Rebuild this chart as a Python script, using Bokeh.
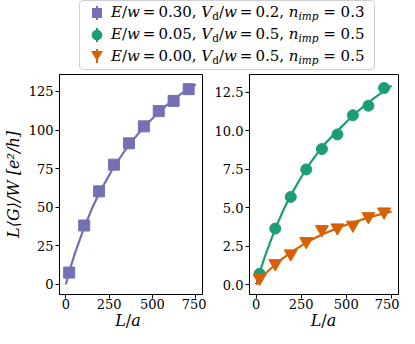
from bokeh.plotting import figure
from bokeh.layouts import column, row
from bokeh.models import Div, Spacer, FixedTicker, PrintfTickFormatter, Range1d
from bokeh.embed import file_html
from bokeh.resources import INLINE

# ---------------- data ----------------
L_pts = [19, 106, 192, 278, 365, 451, 537, 623, 710]
G_purple = [7.7, 38.2, 60.3, 77.6, 91.4, 102.4, 112.3, 118.9, 126.5]
G_green = [0.7, 3.64, 5.70, 7.49, 8.82, 9.77, 11.02, 11.64, 12.79]
G_orange = [0.42, 1.37, 2.01, 2.81, 3.59, 3.70, 3.88, 4.43, 4.74]

L_fit = [0, 19, 50, 106, 150, 192, 278, 365, 451, 537, 623, 710, 752]
fit_purple = [0, 8.2, 19.5, 37.0, 49.0, 59.0, 76.4, 90.5, 102.0, 111.6, 120.0, 126.8, 129.6]
fit_green = [0, 0.75, 1.88, 3.64, 4.82, 5.82, 7.54, 8.96, 10.0, 11.0, 11.85, 12.6, 12.94]
fit_orange = [0, 0.27, 0.7, 1.3, 1.72, 2.09, 2.73, 3.25, 3.68, 4.04, 4.36, 4.63, 4.75]

x_ticks = [0, 250, 500, 750]
y_ticks_left = [0, 25, 50, 75, 100, 125]
y_ticks_right = [0.0, 2.5, 5.0, 7.5, 10.0, 12.5]

x_label_html = "<i>L</i>/<i>a</i>"
y_label = "L\u27e8G\u27e9/W [e\u00b2/h]"
legend_labels = [
    "<i>E</i>/<i>w</i>&#8201;=&#8201;0.30, <i>V</i><sub>d</sub>/<i>w</i>&#8201;=&#8201;0.2, <i>n<sub>imp</sub></i> = 0.3",
    "<i>E</i>/<i>w</i>&#8201;=&#8201;0.05, <i>V</i><sub>d</sub>/<i>w</i>&#8201;=&#8201;0.5, <i>n<sub>imp</sub></i> = 0.5",
    "<i>E</i>/<i>w</i>&#8201;=&#8201;0.00, <i>V</i><sub>d</sub>/<i>w</i>&#8201;=&#8201;0.5, <i>n<sub>imp</sub></i> = 0.5",
]

PURPLE = "#7570b3"
GREEN = "#1b9e77"
ORANGE = "#d95f02"
FONT = "DejaVu Serif"

FIG_H = 244
B_TOP = 4
B_BOT = 20


def style(p, yticks, fmt=None):
    p.xaxis.ticker = FixedTicker(ticks=x_ticks)
    p.yaxis.ticker = FixedTicker(ticks=yticks)
    if fmt:
        p.yaxis.formatter = PrintfTickFormatter(format=fmt)
    p.grid.visible = False
    p.outline_line_color = "black"
    p.outline_line_width = 1
    p.outline_line_alpha = 1
    for ax in (p.xaxis, p.yaxis):
        ax.axis_line_color = "black"
        ax.major_tick_line_color = "black"
        ax.major_tick_out = 4
        ax.major_tick_in = 0
        ax.minor_tick_line_color = None
        ax.major_label_text_font = FONT
        ax.major_label_text_font_size = "13px"
        ax.major_label_text_color = "black"
        ax.axis_label_text_font = FONT
        ax.axis_label_text_font_size = "16px"
        ax.axis_label_text_font_style = "italic"
        ax.axis_label_text_color = "black"
        ax.axis_label_standoff = 3
    p.xaxis.major_label_standoff = 0
    p.yaxis.major_label_standoff = 2
    p.background_fill_color = "white"
    p.border_fill_color = "white"


# ---------------- left panel ----------------
p1 = figure(width=206, height=FIG_H, output_backend="svg", toolbar_location=None,
            x_range=Range1d(-37, 790), y_range=Range1d(-6.5, 136),
            min_border_left=54, min_border_right=4, min_border_top=B_TOP, min_border_bottom=B_BOT)
style(p1, y_ticks_left)
p1.yaxis.axis_label = y_label
p1.line(L_fit, fit_purple, line_color=PURPLE, line_width=2.2)
p1.scatter(L_pts, G_purple, marker="square", size=11, fill_color=PURPLE, line_color=PURPLE)

# ---------------- right panel ----------------
p2 = figure(width=193, height=FIG_H, output_backend="svg", toolbar_location=None,
            x_range=Range1d(-37, 790), y_range=Range1d(-0.65, 13.67),
            min_border_left=43, min_border_right=1, min_border_top=B_TOP, min_border_bottom=B_BOT)
style(p2, y_ticks_right, "%.1f")
p2.line(L_fit, fit_green, line_color=GREEN, line_width=2.2)
p2.scatter(L_pts, G_green, marker="circle", size=11, fill_color=GREEN, line_color=GREEN)
p2.line(L_fit, fit_orange, line_color=ORANGE, line_width=2.2)
p2.scatter(L_pts, G_orange, marker="inverted_triangle", size=13, fill_color=ORANGE, line_color=ORANGE)

# ---------------- legend (HTML) ----------------
markers_svg = [
    f'<svg width="14" height="16" style="margin-right:7px;flex:none"><line x1="7" y1="1" x2="7" y2="15" stroke="{PURPLE}" stroke-width="2"/><rect x="2" y="3" width="10" height="10" fill="{PURPLE}"/></svg>',
    f'<svg width="14" height="16" style="margin-right:7px;flex:none"><line x1="7" y1="1" x2="7" y2="15" stroke="{GREEN}" stroke-width="2"/><circle cx="7" cy="8" r="5.3" fill="{GREEN}"/></svg>',
    f'<svg width="14" height="16" style="margin-right:7px;flex:none"><line x1="7" y1="1" x2="7" y2="15" stroke="{ORANGE}" stroke-width="2"/><polygon points="1,3 13,3 7,13" fill="{ORANGE}"/></svg>',
]
rows_html = "".join(
    f'<div style="display:flex;align-items:center;height:21.8px;white-space:nowrap">{m}<span>{t}</span></div>'
    for m, t in zip(markers_svg, legend_labels)
)
legend_html = (
    f'<div style="box-sizing:border-box;width:296px;height:70px;border:1px solid #cfcfcf;'
    f'border-radius:4px;padding:1px 0 0 10px;font-family:\'{FONT}\';font-size:15px;color:black;'
    f'background:white;line-height:1">'
    f'<style>sub{{font-size:0.7em;vertical-align:-0.3em;line-height:0}}</style>{rows_html}</div>'
)
legend = Div(text=legend_html, width=296, height=70, margin=(0, 0, 0, 0))


def xlabel_div(total_w, left, frame_w):
    html = (f'<div style="margin-left:{left}px;width:{frame_w}px;text-align:center;'
            f'font-family:\'{FONT}\';font-size:16px;line-height:14px;color:black;overflow:visible">{x_label_html}</div>')
    return Div(text=html, width=total_w, height=14, margin=(0, 0, 0, 0))


top = row(Spacer(width=79, height=70, margin=(0, 0, 0, 0)), legend, spacing=0)
plots = row(p1, p2, spacing=0)
xlabels = row(xlabel_div(206, 54, 148), xlabel_div(193, 43, 149), spacing=0)
layout = column(top, plots, xlabels, spacing=0)

open("out.html", "w").write(file_html(layout, INLINE))
